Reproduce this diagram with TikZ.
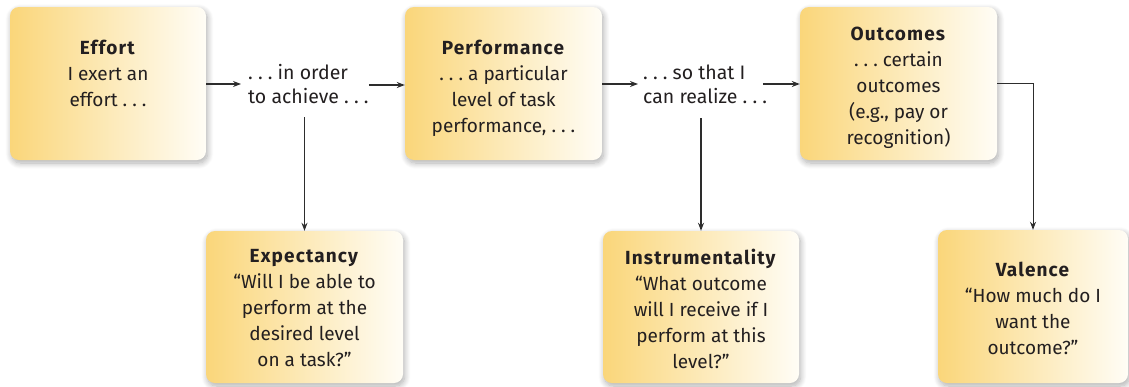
\documentclass[tikz,border=0pt]{standalone}
\usepackage{fontspec}
\setmainfont{Fira Sans}[BoldFeatures={LetterSpace=6}]
\usetikzlibrary{arrows.meta,shadows.blur}
\definecolor{boxL}{RGB}{250,214,122}
\definecolor{boxR}{RGB}{255,253,246}
\definecolor{ink}{RGB}{35,31,32}
\definecolor{lineC}{RGB}{45,45,45}
\newcommand{\dd}{.\ .\ .}
\tikzset{
  box/.style={rounded corners=9pt, left color=boxL, right color=boxR, draw=none,
    inner sep=0pt,
    blur shadow={shadow xshift=1.5pt, shadow yshift=-3pt, shadow blur steps=10, shadow blur radius=6pt, shadow opacity=32}},
  txt/.style={align=center, text=ink, inner sep=0pt, font=\fontsize{19}{26}\selectfont},
  mid/.style={align=left, text=ink, inner sep=0pt, font=\fontsize{19.5}{24}\selectfont, anchor=west},
  conn/.style={draw=lineC, line width=1.2pt, -{Stealth[length=8pt,width=6pt]}},
  thickconn/.style={conn, line width=2pt},
  thinconn/.style={conn, line width=1pt}
}
\begin{document}
\begin{tikzpicture}[x=1pt,y=-1pt]
\useasboundingbox (0,0) rectangle (1129,386);
\node[box, minimum width=196pt, minimum height=153pt] (effort) at (108,83.5) {};
\node[box, minimum width=197pt, minimum height=153pt] (perf) at (503.5,83.5) {};
\node[box, minimum width=197pt, minimum height=153pt] (outc) at (898.5,83.5) {};
\node[box, minimum width=197pt, minimum height=152pt] (expe) at (304.5,307) {};
\node[box, minimum width=196pt, minimum height=152pt] (instr) at (701,307) {};
\node[box, minimum width=190pt, minimum height=153pt] (val) at (1033,306.5) {};
\node[txt, anchor=north] (effort-t) at (108,40)
  {\textbf{Effort}\\I exert an\\effort \dd};
\node[txt, anchor=north] (perf-t) at (503.5,40)
  {\textbf{Performance}\\\dd\ a particular\\level of task\\performance, \dd};
\node[txt] (outc-t) at (898.5,88)
  {\textbf{Outcomes}\\\dd\ certain\\outcomes\\(e.g., pay or\\recognition)};
\node[txt] (expe-t) at (304.5,308.5)
  {\textbf{Expectancy}\\“Will I be able to\\perform at the\\desired level\\on a task?”};
\node[txt] (instr-t) at (701,308.5)
  {\textbf{Instrumentality}\\“What outcome\\will I receive if I\\perform at this\\level?”};
\node[txt] (val-t) at (1033,308.5)
  {\textbf{Valence}\\“How much do I\\want the\\outcome?”};
\node[mid] (inorder) at (248,84) {\dd\ in order\\to achieve \dd};
\node[mid] (sothat) at (643,84) {\dd\ so that I\\can realize \dd};
\coordinate (c1) at (1033,83);
\draw[conn] (effort.east |- 0,84) -- ([xshift=-7pt]inorder.west |- 0,84);
\draw[conn] ([xshift=-36pt]perf.west |- 0,85) -- (perf.west |- 0,85);
\draw[thickconn] (perf.east |- 0,84) -- ([xshift=-5pt]sothat.west |- 0,84);
\draw[thickconn] ([xshift=-37pt]outc.west |- 0,84) -- (outc.west |- 0,84);
\draw[conn] (expe.north |- 0,117) -- (expe.north);
\draw[conn] (instr.north |- 0,118) -- (instr.north);
\draw[thinconn] (outc.east |- c1) -- (c1) -- (val.north);
\end{tikzpicture}
\end{document}
